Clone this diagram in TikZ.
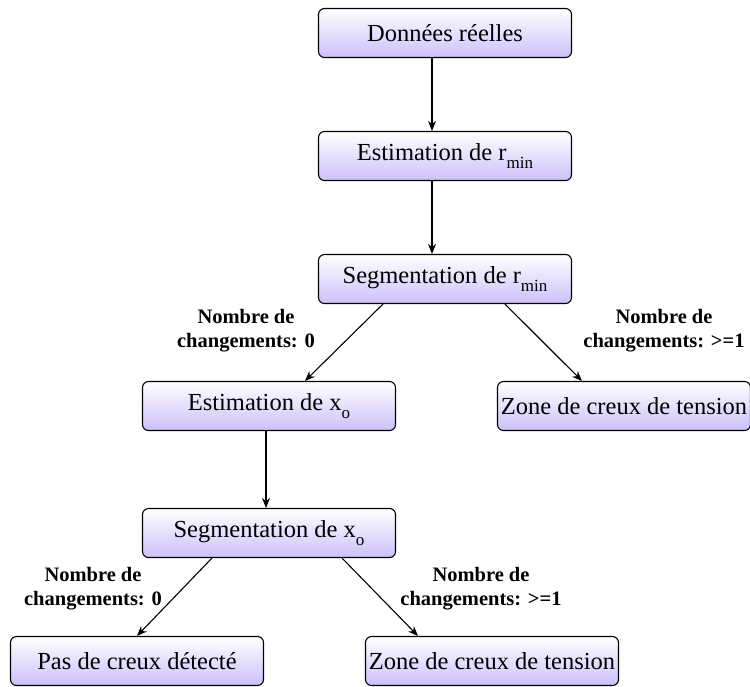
\documentclass[tikz,border=0pt]{standalone}
\usepackage{fontspec}
\setmainfont{Liberation Serif}
\usetikzlibrary{arrows.meta}
\newcommand{\sbs}[1]{\raisebox{-0.3em}{\fontsize{17}{17}\selectfont #1}}
\tikzset{
  box/.style={draw=black, line width=1.1pt, rounded corners=6pt,
    top color=white, bottom color={rgb,255:red,204;green,192;blue,250},
    minimum width=253pt, minimum height=49pt, inner sep=0pt,
    font=\fontsize{24.5}{28}\selectfont},
  lbl/.style={align=center, font=\fontsize{20.5}{24}\selectfont\bfseries},
  arr/.style={line width=1.1pt, -{Stealth[length=10pt,width=8pt]}}
}
\begin{document}
\begin{tikzpicture}[x=1pt,y=-1pt]
\useasboundingbox (0,0) rectangle (750,686);
\node[box] (n1) at (445,33) {Données réelles};
\node[box] (n2) at (445,156) {Estimation de r\sbs{min}};
\node[box] (n3) at (445,279) {Segmentation de r\sbs{min}};
\node[box] (n4) at (269,406) {Estimation de x\sbs{o}};
\node[box] (n5) at (624,406) {Zone de creux de tension};
\node[box] (n6) at (269,533) {Segmentation de x\sbs{o}};
\node[box] (n7) at (137,661) {Pas de creux détecté};
\node[box] (n8) at (492,661) {Zone de creux de tension};
\node[lbl] (l1) at (246,331) {Nombre de\\changements: 0};
\node[lbl] (l2) at (664,331) {Nombre de\\changements: >=1};
\node[lbl] (l3) at (93,589) {Nombre de\\changements: 0};
\node[lbl] (l4) at (481,589) {Nombre de\\changements: >=1};
\draw[arr] ([xshift=-13pt]n1.south) -- ([xshift=-13pt]n2.north);
\draw[arr] ([xshift=-13pt]n2.south) -- ([xshift=-13pt]n3.north);
\draw[arr] ([xshift=-62pt]n3.south) -- ([xshift=36pt]n4.north);
\draw[arr] ([xshift=60pt]n3.south) -- ([xshift=-42pt]n5.north);
\draw[arr] ([xshift=-3pt]n4.south) -- ([xshift=-3pt]n6.north);
\draw[arr] ([xshift=-57pt]n6.south) -- (n7.north);
\draw[arr] ([xshift=73pt]n6.south) -- ([xshift=-74pt]n8.north);
\end{tikzpicture}
\end{document}
